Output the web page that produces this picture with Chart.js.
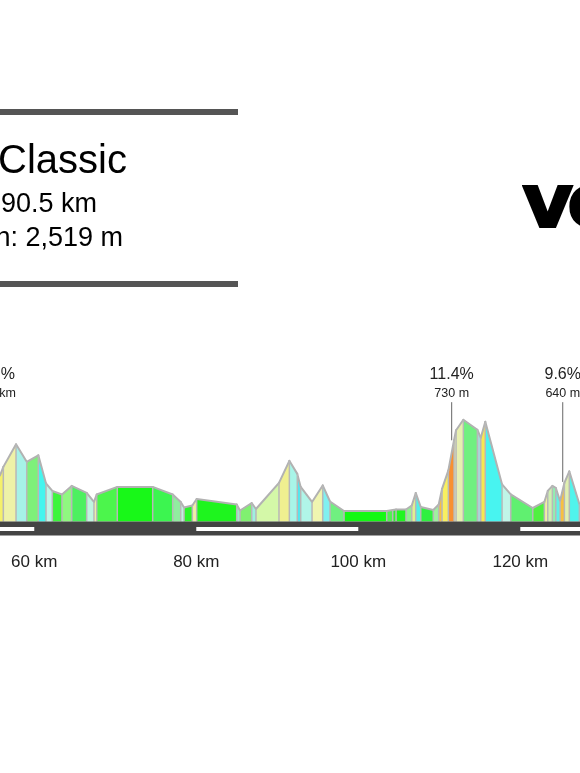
<!DOCTYPE html>
<html>
<head>
<meta charset="utf-8">
<title>Classic</title>
<script src="https://cdn.jsdelivr.net/npm/chart.js@4/dist/chart.umd.min.js"></script>
<style>
html,body{margin:0;padding:0;background:#fff;overflow:hidden;width:580px;height:773px;}
body{position:relative;font-family:"Liberation Sans",Arial,sans-serif;color:#000;}
#grafico{position:absolute;left:0;top:0;}
.regua{position:absolute;left:0;width:238px;height:6px;background:#555;}
.txt{position:absolute;white-space:nowrap;line-height:1;text-align:right;}
#logo{position:absolute;left:522px;top:164px;font:bold 75px/1 "DejaVu Sans",sans-serif;letter-spacing:-6px;color:#000;-webkit-text-stroke:2px #000;white-space:nowrap;transform:scaleX(1.05);transform-origin:left top;}
</style>
</head>
<body>
<canvas id="grafico" width="580" height="773"></canvas>
<div class="regua" style="top:109px"></div>
<div class="regua" style="top:281px"></div>
<div class="txt" style="right:453px;top:139px;font-size:40px">Classic</div>
<div class="txt" style="right:483px;top:190px;font-size:27px">90.5 km</div>
<div class="txt" style="right:457px;top:224px;font-size:27px">n: 2,519 m</div>
<div id="logo">ve</div>
<script>
// perfil: km e altitude de cada ponto
var km=[55.77,56.18,57.75,59.07,60.50,61.45,62.23,63.42,64.62,66.47,67.37,67.71,70.25,74.62,77.09,78.08,78.49,79.51,80.05,84.99,85.40,86.84,87.37,90.21,91.49,92.47,92.89,94.29,95.61,96.51,98.24,103.51,104.25,104.66,105.89,106.60,107.09,107.71,109.26,109.93,110.34,111.12,111.82,112.07,112.97,114.70,115.12,115.68,117.75,118.82,121.54,122.97,123.39,123.96,124.38,124.91,125.44,126.05,127.29,127.37];
var altitude=[92,109,154,119,132,76,61,54,71,57,39,54,69,69,54,39,28,32,45,34,22,37,25,77,121,95,69,39,72,40,21,21,23,24,24,32,57,29,23,34,65,102,162,182,203,183,167,199,74,54,27,39,61,71,67,41,77,100,35,32];
// uma cor por trecho (entre dois pontos)
var coresTrecho=["#f5f06a","#eef2a8","#a6f2e8","#7ef07a","#44f5ee","#c0f5e8","#3cf53c","#90f880","#4df060","#c0f5e0","#f0f0a8","#4cf54c","#18f818","#3cf550","#90eda0","#c0f0e0","#28f528","#f0f0a8","#1ef51e","#a0e8c8","#80f070","#a0f0e0","#d4f8a8","#f0f090","#a8f5e8","#50e8f0","#b0f5e8","#f0f5b0","#80f0f0","#70f080","#14f814","#50f050","#30f030","#20f520","#90f090","#e0f090","#50f0e8","#30f040","#a0f0a0","#f8c040","#f8f060","#f89030","#e8f0b0","#e8f0b0","#70f080","#a8d8d8","#f8e850","#48f4f0","#c0f5e8","#60f070","#50f040","#f0f0a0","#d0f0b0","#90f0b0","#60f0e8","#f8c040","#e0f0b0","#50f4ec","#f0f0a8"];

var kmTicks=[60,80,100,120];
var faixaInicio=[55.77,80,120];
var faixaFim=[60,100,127.37];
var estradaKm=[55.77,127.37];

var subidaKm=[111.53,125.24];
var subidaTopo=[238,238];
var subidaBase=[162,79];
var subidaPct=["11.4%","9.6%"];
var subidaMetros=["730 m","640 m"];

var datasets=[];

// faixas brancas por cima da estrada
for(let i=0;i<faixaInicio.length;i++){
    datasets.push({data:[{x:faixaInicio[i],y:-15},{x:faixaFim[i],y:-15}],borderColor:"#fff",borderWidth:4,borderCapStyle:"butt",pointRadius:0,fill:false});
}
// estrada
datasets.push({data:[{x:estradaKm[0],y:-14},{x:estradaKm[1],y:-14}],borderColor:"#444",borderWidth:14,borderCapStyle:"butt",pointRadius:0,fill:false});

// linhas das subidas
for(let i=0;i<subidaKm.length;i++){
    datasets.push({data:[{x:subidaKm[i],y:subidaBase[i]},{x:subidaKm[i],y:subidaTopo[i]}],borderColor:"#666",borderWidth:1,pointRadius:0,fill:false});
}

// divisorias verticais entre trechos
for(let i=1;i<km.length-1;i++){
    datasets.push({data:[{x:km[i],y:0},{x:km[i],y:altitude[i]}],borderColor:"#b8b8b8",borderWidth:1.5,borderCapStyle:"butt",pointRadius:0,fill:false});
}

// trechos do perfil: o preenchimento desce ate a origem
for(let i=0;i<coresTrecho.length;i++){
    datasets.push({
        data:[{x:km[i],y:altitude[i]},{x:km[i+1],y:altitude[i+1]}],
        borderColor:"#b2b2b2",
        borderWidth:2,
        backgroundColor:coresTrecho[i],
        borderCapStyle:"round",
        pointRadius:0,
        tension:0,
        fill:"origin"
    });
}

var rotulos={
    id:"rotulos",
    afterDatasetsDraw:function(chart){
        var c=chart.ctx,sx=chart.scales.x;
        c.save();
        c.fillStyle="#222";
        c.textBaseline="middle";
        c.textAlign="center";
        for(let i=0;i<subidaKm.length;i++){
            var px=sx.getPixelForValue(subidaKm[i]);
            c.font='16px "Liberation Sans"';
            c.fillText(subidaPct[i],px,375);
            c.font='12.5px "Liberation Sans"';
            c.fillText(subidaMetros[i],px,394);
        }
        // subida cortada na borda esquerda
        c.textAlign="right";
        c.font='16px "Liberation Sans"';
        c.fillText("%",15,375);
        c.font='12.5px "Liberation Sans"';
        c.fillText("km",16,394);
        c.restore();
    }
};

new Chart(document.getElementById("grafico"),{
    type:"line",
    data:{datasets:datasets},
    plugins:[rotulos],
    options:{
        responsive:false,
        animation:false,
        devicePixelRatio:1,
        layout:{padding:{top:341,bottom:193,left:0,right:0}},
        plugins:{legend:{display:false},tooltip:{enabled:false}},
        scales:{
            x:{
                type:"linear",
                min:55.77,
                max:127.37,
                border:{display:false},
                grid:{display:false,drawTicks:false},
                afterBuildTicks:function(scale){
                    scale.ticks=kmTicks.map(function(v){return {value:v};});
                },
                ticks:{
                    autoSkip:false,
                    maxRotation:0,
                    padding:7,
                    color:"#222",
                    font:{family:"Liberation Sans",size:17},
                    callback:function(v){return v+" km";}
                }
            },
            y:{
                display:false,
                min:-48,
                max:360
            }
        }
    }
});
</script>
</body>
</html>
